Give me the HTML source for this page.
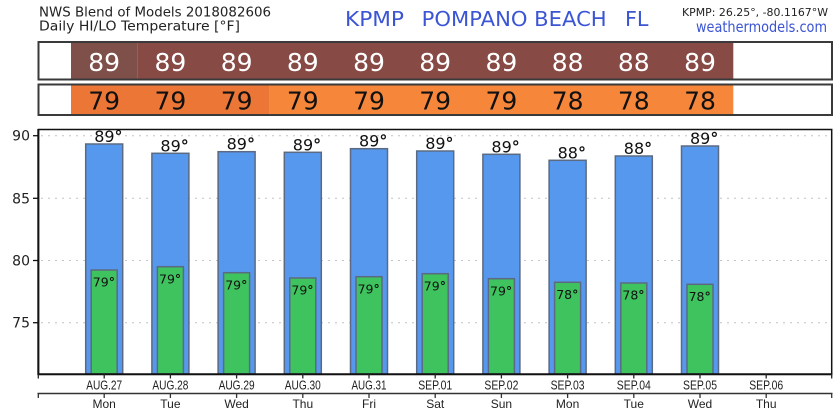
<!DOCTYPE html>
<html><head><meta charset="utf-8"><style>
html,body{margin:0;padding:0;background:#fff;}
svg{display:block;}
text{font-family:"DejaVu Sans","Liberation Sans",sans-serif;}
.ls{font-family:"Liberation Sans",sans-serif;}
.d{font-weight:bold;}
</style></head><body>
<svg width="840" height="420" viewBox="0 0 840 420" xmlns="http://www.w3.org/2000/svg">
<rect width="840" height="420" fill="#fff"/>
<!-- header -->
<text x="39" y="16.7" font-size="13" fill="#222" textLength="232" lengthAdjust="spacingAndGlyphs">NWS Blend of Models 2018082606</text>
<text x="39" y="30.7" font-size="13" fill="#222" textLength="201" lengthAdjust="spacingAndGlyphs">Daily HI/LO Temperature [°F]</text>
<text x="345" y="26" font-size="20" fill="#3b55d4" textLength="59" lengthAdjust="spacingAndGlyphs">KPMP</text>
<text x="421.7" y="26" font-size="20" fill="#3b55d4" textLength="185" lengthAdjust="spacingAndGlyphs">POMPANO BEACH</text>
<text x="625" y="26" font-size="20" fill="#3b55d4" textLength="23.5" lengthAdjust="spacingAndGlyphs">FL</text>
<text x="682" y="16" font-size="11" fill="#222" textLength="146" lengthAdjust="spacingAndGlyphs">KPMP: 26.25°, -80.1167°W</text>
<text x="696" y="32" font-size="15" fill="#3b55d4" textLength="131" lengthAdjust="spacingAndGlyphs">weathermodels.com</text>

<!-- row 1 -->
<rect x="38.5" y="42" width="793.5" height="37.5" fill="#fff" stroke="#3a3a3a" stroke-width="2"/>
<rect x="71" y="43" width="66.2" height="35.5" fill="#7f504a"/>
<rect x="137.2" y="43" width="596.1" height="35.5" fill="#874a45"/>
<g font-size="25" fill="#fff" text-anchor="middle">
<text x="104.2" y="71">89</text><text x="170.4" y="71">89</text><text x="236.6" y="71">89</text><text x="302.8" y="71">89</text><text x="369" y="71">89</text><text x="435.2" y="71">89</text><text x="501.4" y="71">89</text><text x="567.6" y="71">88</text><text x="633.8" y="71">88</text><text x="700" y="71">89</text>
</g>
<!-- row 2 -->
<rect x="38.5" y="84.5" width="793.5" height="30.5" fill="#fff" stroke="#3a3a3a" stroke-width="2"/>
<rect x="71" y="85.5" width="198.6" height="28.5" fill="#ec7636"/>
<rect x="269.6" y="85.5" width="463.7" height="28.5" fill="#f6863a"/>
<g font-size="25" fill="#111" text-anchor="middle">
<text x="104.2" y="109.5">79</text><text x="170.4" y="109.5">79</text><text x="236.6" y="109.5">79</text><text x="302.8" y="109.5">79</text><text x="369" y="109.5">79</text><text x="435.2" y="109.5">79</text><text x="501.4" y="109.5">79</text><text x="567.6" y="109.5">78</text><text x="633.8" y="109.5">78</text><text x="700" y="109.5">78</text>
</g>

<!-- grid -->
<g stroke="#c4c4c4" stroke-width="1" stroke-dasharray="2,5">
<line x1="41" y1="135.7" x2="830" y2="135.7"/>
<line x1="41" y1="198.3" x2="830" y2="198.3"/>
<line x1="41" y1="260.5" x2="830" y2="260.5"/>
<line x1="41" y1="322.7" x2="830" y2="322.7"/>
</g>
<!-- y ticks -->
<g stroke="#111" stroke-width="1.3">
<line x1="33" y1="135.7" x2="38" y2="135.7"/>
<line x1="33" y1="198.3" x2="38" y2="198.3"/>
<line x1="33" y1="260.5" x2="38" y2="260.5"/>
<line x1="33" y1="322.7" x2="38" y2="322.7"/>
</g>
<g font-size="14" fill="#222" text-anchor="end">
<text x="30" y="140.7">90</text>
<text x="30" y="203.3">85</text>
<text x="30" y="265.5">80</text>
<text x="30" y="327.7">75</text>
</g>

<!-- bars -->
<g stroke="#5b6a82" stroke-width="1.5">
<g fill="#5598ee">
<rect x="85.7" y="144" width="37" height="230"/>
<rect x="151.9" y="153.3" width="37" height="220.7"/>
<rect x="218.1" y="151.7" width="37" height="222.3"/>
<rect x="284.3" y="152.3" width="37" height="221.7"/>
<rect x="350.5" y="148.7" width="37" height="225.3"/>
<rect x="416.7" y="151" width="37" height="223"/>
<rect x="482.9" y="154.3" width="37" height="219.7"/>
<rect x="549.1" y="160.3" width="37" height="213.7"/>
<rect x="615.3" y="156" width="37" height="218"/>
<rect x="681.5" y="146" width="37" height="228"/>
</g>
<g fill="#3ec35e">
<rect x="91.2" y="270" width="26" height="104"/>
<rect x="157.4" y="266.7" width="26" height="107.3"/>
<rect x="223.6" y="272.7" width="26" height="101.3"/>
<rect x="289.8" y="278" width="26" height="96"/>
<rect x="356" y="276.7" width="26" height="97.3"/>
<rect x="422.2" y="273.7" width="26" height="100.3"/>
<rect x="488.4" y="278.7" width="26" height="95.3"/>
<rect x="554.6" y="282.3" width="26" height="91.7"/>
<rect x="620.8" y="283" width="26" height="91"/>
<rect x="687" y="284.3" width="26" height="89.7"/>
</g>
</g>
<!-- bar labels -->
<g font-size="16" fill="#111">
<text x="94.2" y="142">89<tspan class="d">°</tspan></text>
<text x="160.4" y="151.3">89<tspan class="d">°</tspan></text>
<text x="226.6" y="149.7">89<tspan class="d">°</tspan></text>
<text x="292.8" y="150.3">89<tspan class="d">°</tspan></text>
<text x="359" y="146.7">89<tspan class="d">°</tspan></text>
<text x="425.2" y="149">89<tspan class="d">°</tspan></text>
<text x="491.4" y="152.3">89<tspan class="d">°</tspan></text>
<text x="557.6" y="158.3">88<tspan class="d">°</tspan></text>
<text x="623.8" y="154">88<tspan class="d">°</tspan></text>
<text x="690" y="144">89<tspan class="d">°</tspan></text>
</g>
<g font-size="12.5" fill="#111">
<text x="92.8" y="286.7">79<tspan class="d">°</tspan></text>
<text x="159" y="283.4">79<tspan class="d">°</tspan></text>
<text x="225.2" y="289.4">79<tspan class="d">°</tspan></text>
<text x="291.4" y="294.7">79<tspan class="d">°</tspan></text>
<text x="357.6" y="293.4">79<tspan class="d">°</tspan></text>
<text x="423.8" y="290.4">79<tspan class="d">°</tspan></text>
<text x="490" y="295.4">79<tspan class="d">°</tspan></text>
<text x="556.2" y="299">78<tspan class="d">°</tspan></text>
<text x="622.4" y="299.7">78<tspan class="d">°</tspan></text>
<text x="688.6" y="301">78<tspan class="d">°</tspan></text>
</g>

<!-- frame -->
<rect x="38.5" y="129.5" width="793.2" height="244.8" fill="none" stroke="#111" stroke-width="1.5"/>
<line x1="38.3" y1="129" x2="38.3" y2="375" stroke="#111" stroke-width="2"/>
<line x1="37.5" y1="374.3" x2="832.5" y2="374.3" stroke="#111" stroke-width="2"/>

<!-- x ticks -->
<g stroke="#222" stroke-width="1.3">
<line x1="38.3" y1="374" x2="38.3" y2="378.5"/>
<line x1="831.7" y1="374" x2="831.7" y2="378.5"/>
<line x1="104.2" y1="374" x2="104.2" y2="378.5"/>
<line x1="170.4" y1="374" x2="170.4" y2="378.5"/>
<line x1="236.6" y1="374" x2="236.6" y2="378.5"/>
<line x1="302.8" y1="374" x2="302.8" y2="378.5"/>
<line x1="369" y1="374" x2="369" y2="378.5"/>
<line x1="435.2" y1="374" x2="435.2" y2="378.5"/>
<line x1="501.4" y1="374" x2="501.4" y2="378.5"/>
<line x1="567.6" y1="374" x2="567.6" y2="378.5"/>
<line x1="633.8" y1="374" x2="633.8" y2="378.5"/>
<line x1="700" y1="374" x2="700" y2="378.5"/>
<line x1="766.2" y1="374" x2="766.2" y2="378.5"/>
</g>
<g font-size="12.5" fill="#222" text-anchor="middle">
<text class="ls" x="104.2" y="389.3" textLength="36" lengthAdjust="spacingAndGlyphs">AUG.27</text>
<text class="ls" x="170.4" y="389.3" textLength="36" lengthAdjust="spacingAndGlyphs">AUG.28</text>
<text class="ls" x="236.6" y="389.3" textLength="36" lengthAdjust="spacingAndGlyphs">AUG.29</text>
<text class="ls" x="302.8" y="389.3" textLength="36" lengthAdjust="spacingAndGlyphs">AUG.30</text>
<text class="ls" x="369" y="389.3" textLength="35" lengthAdjust="spacingAndGlyphs">AUG.31</text>
<text class="ls" x="435.2" y="389.3" textLength="34" lengthAdjust="spacingAndGlyphs">SEP.01</text>
<text class="ls" x="501.4" y="389.3" textLength="34" lengthAdjust="spacingAndGlyphs">SEP.02</text>
<text class="ls" x="567.6" y="389.3" textLength="34" lengthAdjust="spacingAndGlyphs">SEP.03</text>
<text class="ls" x="633.8" y="389.3" textLength="34" lengthAdjust="spacingAndGlyphs">SEP.04</text>
<text class="ls" x="700" y="389.3" textLength="34" lengthAdjust="spacingAndGlyphs">SEP.05</text>
<text class="ls" x="766.2" y="389.3" textLength="34" lengthAdjust="spacingAndGlyphs">SEP.06</text>
</g>
<!-- second axis -->
<line x1="37.5" y1="393.5" x2="832.5" y2="393.5" stroke="#333" stroke-width="1.5"/>
<g stroke="#333" stroke-width="1.3">
<line x1="38.3" y1="393" x2="38.3" y2="398"/>
<line x1="831.7" y1="393" x2="831.7" y2="398"/>
<line x1="104.2" y1="393" x2="104.2" y2="398"/>
<line x1="170.4" y1="393" x2="170.4" y2="398"/>
<line x1="236.6" y1="393" x2="236.6" y2="398"/>
<line x1="302.8" y1="393" x2="302.8" y2="398"/>
<line x1="369" y1="393" x2="369" y2="398"/>
<line x1="435.2" y1="393" x2="435.2" y2="398"/>
<line x1="501.4" y1="393" x2="501.4" y2="398"/>
<line x1="567.6" y1="393" x2="567.6" y2="398"/>
<line x1="633.8" y1="393" x2="633.8" y2="398"/>
<line x1="700" y1="393" x2="700" y2="398"/>
<line x1="766.2" y1="393" x2="766.2" y2="398"/>
</g>
<g font-size="12" fill="#222" text-anchor="middle">
<text class="ls" x="104.2" y="408">Mon</text>
<text class="ls" x="170.4" y="408">Tue</text>
<text class="ls" x="236.6" y="408">Wed</text>
<text class="ls" x="302.8" y="408">Thu</text>
<text class="ls" x="369" y="408">Fri</text>
<text class="ls" x="435.2" y="408">Sat</text>
<text class="ls" x="501.4" y="408">Sun</text>
<text class="ls" x="567.6" y="408">Mon</text>
<text class="ls" x="633.8" y="408">Tue</text>
<text class="ls" x="700" y="408">Wed</text>
<text class="ls" x="766.2" y="408">Thu</text>
</g>
</svg>
</body></html>
